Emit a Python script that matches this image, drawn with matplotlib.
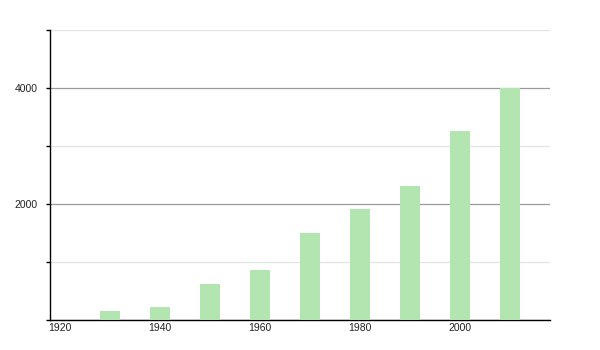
import matplotlib
matplotlib.use("Agg")
import matplotlib.pyplot as plt
from matplotlib.ticker import MultipleLocator, FuncFormatter

years = [1930, 1940, 1950, 1960, 1970, 1980, 1990, 2000, 2010]
population = [160, 230, 620, 860, 1500, 1910, 2310, 3260, 4000]
xtick_years = [1920, 1940, 1960, 1980, 2000]

plt.rcParams["font.family"] = ["Liberation Sans", "DejaVu Sans"]

fig = plt.figure(figsize=(6, 3.5), dpi=100)
ax = fig.add_axes([50 / 600, 30 / 350, 500 / 600, 290 / 350])

ax.bar(years, population, width=4, color="#b3e5b1", zorder=3)

ax.set_xlim(1918, 2018)
ax.set_ylim(0, 5000)
ax.yaxis.set_major_locator(MultipleLocator(2000))
ax.yaxis.set_minor_locator(MultipleLocator(1000))
# no label at zero
ax.yaxis.set_major_formatter(FuncFormatter(lambda v, p: "" if v == 0 else f"{v:.0f}"))
ax.set_xticks(xtick_years)

ax.grid(axis="y", which="major", color="#9a9a9a", lw=0.9, zorder=0)
ax.grid(axis="y", which="minor", color="#e3e3e3", lw=0.9, zorder=0)

for s in ["top", "right"]:
    ax.spines[s].set_visible(False)
for s in ["left", "bottom"]:
    ax.spines[s].set_linewidth(1.0)
    ax.spines[s].set_color("black")

ax.tick_params(axis="y", which="both", length=3, width=1, direction="out",
               labelsize=7.5, pad=6, labelcolor="#222222")
ax.tick_params(axis="x", length=0, labelsize=7.5, pad=2, labelcolor="#222222")

fig.savefig("out.png", dpi=100)
